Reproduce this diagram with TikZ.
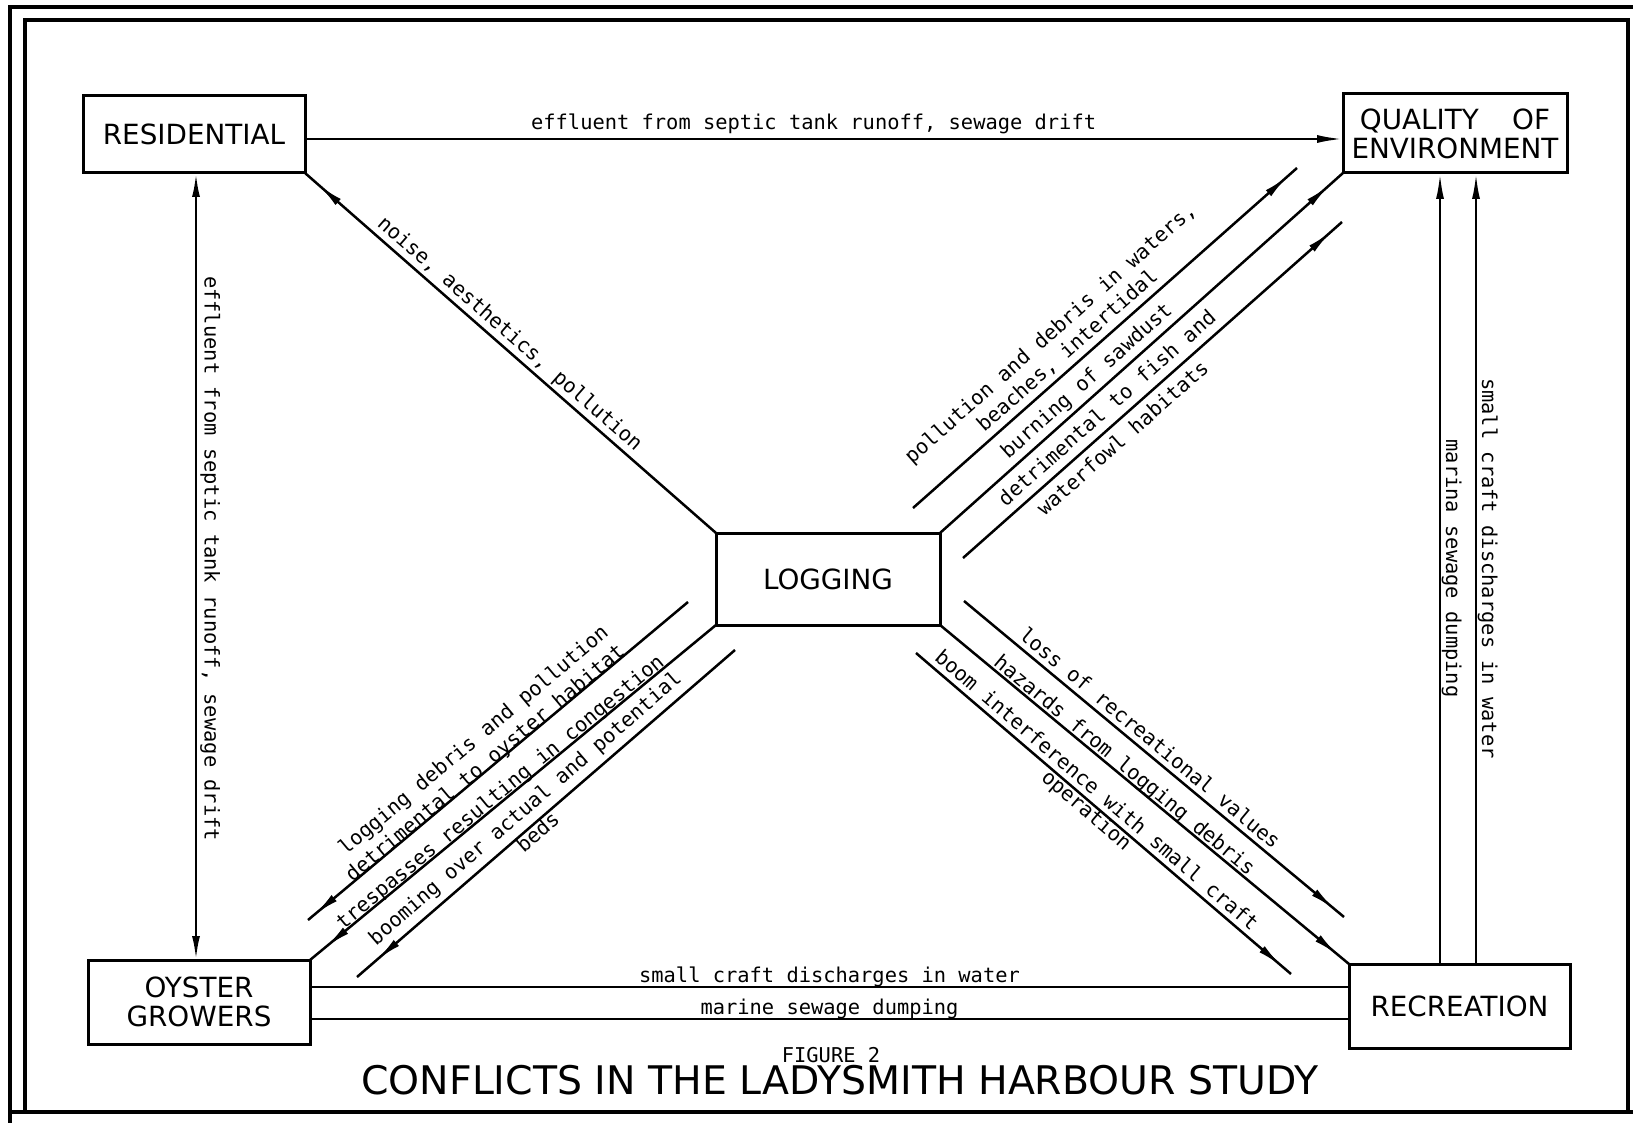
\documentclass[tikz,border=0pt]{standalone}
\usepackage{fontspec}
\newfontfamily\labfont{DejaVu Sans Mono}
\newfontfamily\boxfont{DejaVu Sans}
\usetikzlibrary{arrows.meta,decorations.markings,calc}
\begin{document}
\begin{tikzpicture}[x=0.5pt,y=-0.5pt,
  box/.style={draw, line width=1.5pt, rectangle, inner sep=0pt, outer sep=0pt, align=center,
    font=\boxfont\fontsize{13.9}{14.5}\selectfont},
  conn/.style={line width=1.25pt},
  tipat/.style={postaction={decorate}, decoration={markings,
    mark=at position #1 with {\arrow{Latex[length=13pt,width=4pt]}}}},
  lab/.style={font=\labfont\fontsize{10.2}{12}\selectfont, sloped, anchor=base, inner sep=0pt},
  vlab/.style={font=\labfont\fontsize{10.2}{12}\selectfont, rotate=-90, anchor=base, inner sep=0pt},
  frame/.style={line width=2.2pt},
  tipA/.style={-{Latex[length=13pt,width=4pt]}}
]
\useasboundingbox (0,0) rectangle (1633,1123);
\fill[white] (0,0) rectangle (1633,1123);

% frame
\draw[frame] (10,1123) -- (10,7) -- (1633,7);
\draw[frame] (25,1112) -- (25,20) -- (1628,20) -- (1628,1112);
\draw[frame] (10,1112) -- (1633,1112);

% boxes
\node[box, minimum width=111pt, minimum height=38.5pt] (res) at (194,134.5) {RESIDENTIAL};
\node[box, minimum width=112pt, minimum height=39.5pt] (qe) at (1455,133.5) {QUALITY\hspace{1.2em}OF\\ENVIRONMENT};
\node[box, minimum width=112pt, minimum height=46pt] (log) at (828,579) {LOGGING};
\node[box, minimum width=111pt, minimum height=42pt] (oy) at (199,1002) {OYSTER\\GROWERS};
\node[box, minimum width=110.5pt, minimum height=42pt] (rec) at (1459.5,1006) {RECREATION};

% residential -> quality
\draw[conn, tipA] ([yshift=-2.25pt]res.east) -- node[lab, pos=0.49, yshift=4.5pt]{effluent from septic tank runoff, sewage drift} ([yshift=-2.75pt]qe.west);

% residential <-> oyster
\draw[conn, {Latex[length=12pt,width=4pt]}-{Latex[length=12pt,width=4pt]}] ([xshift=1pt]res.south) -- node[vlab, pos=0.49, yshift=4.25pt]{effluent from septic tank runoff, sewage drift} ([xshift=-1.5pt]oy.north);

% recreation -> quality (two verticals)
\draw[conn, tipA] ([xshift=-9.75pt]rec.north) -- ([xshift=-7.5pt]qe.south);
\path ([xshift=-7.5pt]qe.south) -- node[vlab, pos=0.5, yshift=3pt]{marina sewage dumping} ([xshift=-9.75pt]rec.north);
\draw[conn, tipA] ([xshift=8.25pt]rec.north) -- ([xshift=10.5pt]qe.south);
\path ([xshift=10.5pt]qe.south) -- node[vlab, pos=0.5, yshift=3pt]{small craft discharges in water} ([xshift=8.25pt]rec.north);

% oyster -- recreation
\draw[conn] ([yshift=7.5pt]oy.east) -- node[lab, pos=0.5, yshift=2.5pt]{small craft discharges in water} ([yshift=9.5pt]rec.west);
\draw[conn] ([yshift=-8.5pt]oy.east) -- node[lab, pos=0.5, yshift=2.5pt]{marine sewage dumping} ([yshift=-6.5pt]rec.west);

% logging -> residential
\draw[conn, tipat=-9pt] (log.north west) -- (res.south east);
\path (res.south east) -- node[lab, pos=0.476, yshift=3.85pt]{noise, aesthetics, pollution} (log.north west);

% logging -> quality
\coordinate (a1) at (913,508); \coordinate (a2) at (1297,168);
\coordinate (c1) at (963,558); \coordinate (c2) at (1342,222);
\draw[conn, tipat=-6pt] (a1) -- node[lab, pos=0.426, yshift=16.5pt]{pollution and debris in waters,}
  node[lab, pos=0.429, yshift=4.5pt]{beaches, intertidal} (a2);
\draw[conn, tipat=-9pt] (log.north east) -- node[lab, pos=0.39, yshift=4.7pt]{burning of sawdust} (qe.south west);
\draw[conn, tipat=-7pt] (c1) -- node[lab, pos=0.409, yshift=4.85pt]{detrimental to fish and}
  node[lab, pos=0.393, yshift=-11.65pt]{waterfowl habitats} (c2);

% logging -> oyster growers
\coordinate (l1a) at (688,602); \coordinate (l1b) at (308,920);
\coordinate (l3a) at (735,650); \coordinate (l3b) at (357,977);
\draw[conn, tipat=-4pt] (l1a) -- (l1b);
\path (l1b) -- node[lab, pos=0.489, yshift=12.5pt]{logging debris and pollution}
  node[lab, pos=0.477, yshift=0pt]{detrimental to oyster habitat} (l1a);
\draw[conn, tipat=-10pt] (log.south west) -- (oy.north east);
\path (oy.north east) -- node[lab, pos=0.4816, yshift=1pt]{trespasses resulting in congestion} (log.south west);
\draw[conn, tipat=-13pt] (l3a) -- (l3b);
\path (l3b) -- node[lab, pos=0.475, yshift=5.45pt]{booming over actual and potential}
  node[lab, pos=0.463, yshift=-7.9pt]{beds} (l3a);

% logging -> recreation
\coordinate (r1a) at (964,601); \coordinate (r1b) at (1344,917);
\coordinate (r3a) at (916,653); \coordinate (r3b) at (1291,974);
\draw[conn, tipat=-6pt] (r1a) -- node[lab, pos=0.467, yshift=3.15pt]{loss of recreational values} (r1b);
\draw[conn, tipat=-7pt] (log.south east) -- node[lab, pos=0.436, yshift=1.6pt]{hazards from logging debris} (rec.north west);
\draw[conn, tipat=-6pt] (r3a) -- node[lab, pos=0.459, yshift=3.2pt]{boom interference with small craft}
  node[lab, pos=0.47, yshift=-7.65pt]{operation} (r3b);

% title
\node[font=\labfont\fontsize{10.2}{12}\selectfont, anchor=base, inner sep=0pt] (fig) at (831,1062) {FIGURE 2};
\node[font=\boxfont\fontsize{19.7}{24}\selectfont, anchor=base, inner sep=0pt] (title) at (840,1094) {CONFLICTS IN THE LADYSMITH HARBOUR STUDY};
\end{tikzpicture}
\end{document}
